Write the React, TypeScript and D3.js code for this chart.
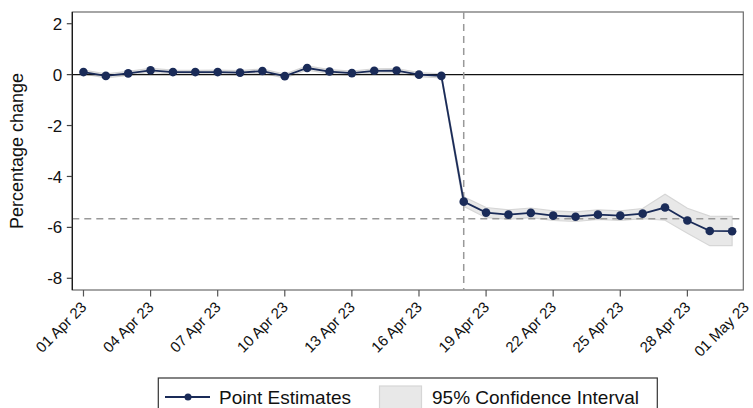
import * as d3 from "d3";
import { useEffect, useRef } from "react";

const dates = [
  "2023-04-01", "2023-04-02", "2023-04-03", "2023-04-04", "2023-04-05", "2023-04-06",
  "2023-04-07", "2023-04-08", "2023-04-09", "2023-04-10", "2023-04-11", "2023-04-12",
  "2023-04-13", "2023-04-14", "2023-04-15", "2023-04-16", "2023-04-17", "2023-04-18",
  "2023-04-19", "2023-04-20", "2023-04-21", "2023-04-22", "2023-04-23", "2023-04-24",
  "2023-04-25", "2023-04-26", "2023-04-27", "2023-04-28", "2023-04-29", "2023-04-30",
];

const estimates = [
  0.1, -0.05, 0.05, 0.17, 0.1, 0.1, 0.1, 0.08, 0.14, -0.06, 0.26, 0.12, 0.06, 0.15, 0.16, 0.0, -0.05,
  -4.99, -5.42, -5.5, -5.43, -5.54, -5.58, -5.5, -5.54, -5.46, -5.22, -5.73, -6.14, -6.15,
];

const lower = [
  0.02, -0.13, -0.03, 0.09, 0.02, 0.03, 0.02, 0.0, 0.06, -0.14, 0.18, 0.04, -0.02, 0.07, 0.08, -0.08, -0.13,
  -5.17, -5.62, -5.68, -5.62, -5.73, -5.77, -5.69, -5.73, -5.66, -5.72, -6.23, -6.72, -6.72,
];

const upper = [
  0.18, 0.03, 0.13, 0.25, 0.18, 0.17, 0.18, 0.16, 0.22, 0.02, 0.34, 0.2, 0.14, 0.23, 0.24, 0.08, 0.03,
  -4.8, -5.22, -5.31, -5.24, -5.35, -5.39, -5.31, -5.35, -5.26, -4.7, -5.25, -5.56, -5.57,
];

const xTicks = [
  "2023-04-01", "2023-04-04", "2023-04-07", "2023-04-10", "2023-04-13", "2023-04-16",
  "2023-04-19", "2023-04-22", "2023-04-25", "2023-04-28", "2023-05-01",
];
const yTicks = [2, 0, -2, -4, -6, -8];

const eventDate = "2023-04-18";
const postMean = -5.66;

const FONT = "'Liberation Sans', Arial, Helvetica, sans-serif";
const NAVY = "#1a2b58";

const parse = (s: string) => {
  const [y, m, d] = s.split("-").map(Number);
  return new Date(Date.UTC(y, m - 1, d));
};

export default function App() {
  const svgRef = useRef<SVGSVGElement>(null);
  const width = 753;
  const height = 408;

  useEffect(() => {
    if (!svgRef.current) return;
    const svg = d3.select(svgRef.current);
    svg.selectAll("*").remove();

    const left = 72.3;
    const right = 743.3;
    const top = 12;
    const bottom = 290;

    // half a day of padding on each side of the data
    const half = 12 * 3600 * 1000;
    const x = d3
      .scaleUtc()
      .domain([new Date(parse(dates[0]).getTime() - half), new Date(parse(dates[dates.length - 1]).getTime() + half)])
      .range([left, right]);
    const y = d3.scaleLinear().domain([-8.46, 2.46]).range([bottom, top]);

    const rows = dates.map((d, i) => ({ date: parse(d), est: estimates[i], lo: lower[i], hi: upper[i] }));

    // plot frame
    svg
      .append("rect")
      .attr("x", left)
      .attr("y", top)
      .attr("width", right - left)
      .attr("height", bottom - top)
      .attr("fill", "white")
      .attr("stroke", "#6b6b6b")
      .attr("stroke-width", 1.2);

    // CI band
    const area = d3
      .area<(typeof rows)[number]>()
      .x((d) => x(d.date))
      .y0((d) => y(d.lo))
      .y1((d) => y(d.hi));
    svg
      .append("path")
      .datum(rows)
      .attr("d", area)
      .attr("fill", "#e8e8e8")
      .attr("stroke", "#d6d6d6")
      .attr("stroke-width", 1.2);

    // reference lines
    svg
      .append("line")
      .attr("x1", left)
      .attr("x2", right)
      .attr("y1", y(0))
      .attr("y2", y(0))
      .attr("stroke", "#111")
      .attr("stroke-width", 1.3);

    svg
      .append("line")
      .attr("x1", left)
      .attr("x2", right)
      .attr("y1", y(postMean))
      .attr("y2", y(postMean))
      .attr("stroke", "#999")
      .attr("stroke-width", 1.5)
      .attr("stroke-dasharray", "7,5");

    svg
      .append("line")
      .attr("x1", x(parse(eventDate)))
      .attr("x2", x(parse(eventDate)))
      .attr("y1", top)
      .attr("y2", bottom)
      .attr("stroke", "#999")
      .attr("stroke-width", 1.5)
      .attr("stroke-dasharray", "7,5");

    // estimates line + markers
    const line = d3
      .line<(typeof rows)[number]>()
      .x((d) => x(d.date))
      .y((d) => y(d.est));
    svg
      .append("path")
      .datum(rows)
      .attr("d", line)
      .attr("fill", "none")
      .attr("stroke", NAVY)
      .attr("stroke-width", 1.8);

    svg
      .selectAll(".pt")
      .data(rows)
      .enter()
      .append("circle")
      .attr("class", "pt")
      .attr("cx", (d) => x(d.date))
      .attr("cy", (d) => y(d.est))
      .attr("r", 4.3)
      .attr("fill", NAVY);

    // left axis
    svg
      .append("line")
      .attr("x1", left)
      .attr("x2", left)
      .attr("y1", top)
      .attr("y2", bottom)
      .attr("stroke", "#111")
      .attr("stroke-width", 1.2);

    const yAxis = svg.append("g");
    yTicks.forEach((t) => {
      yAxis
        .append("line")
        .attr("x1", left - 5.5)
        .attr("x2", left)
        .attr("y1", y(t))
        .attr("y2", y(t))
        .attr("stroke", "#444")
        .attr("stroke-width", 1.2);
      yAxis
        .append("text")
        .attr("x", left - 10)
        .attr("y", y(t))
        .attr("dy", "0.36em")
        .attr("text-anchor", "end")
        .style("font-family", FONT)
        .style("font-size", "17px")
        .style("fill", "#111")
        .text(String(t));
    });

    svg
      .append("text")
      .attr("transform", `translate(23, ${(top + bottom) / 2}) rotate(-90)`)
      .attr("text-anchor", "middle")
      .style("font-family", FONT)
      .style("font-size", "18px")
      .style("fill", "#111")
      .text("Percentage change");

    // bottom axis
    const fmt = d3.utcFormat("%d %b %y");
    const xAxis = svg.append("g");
    xTicks.forEach((s) => {
      const d = parse(s);
      const px = x(d);
      xAxis
        .append("line")
        .attr("x1", px)
        .attr("x2", px)
        .attr("y1", bottom)
        .attr("y2", bottom + 6.5)
        .attr("stroke", "#555")
        .attr("stroke-width", 1.2);
      xAxis
        .append("text")
        .attr("transform", `translate(${Math.min(px + 4, 750)}, ${bottom + 18}) rotate(-45)`)
        .attr("text-anchor", "end")
        .style("font-family", FONT)
        .style("font-size", "15px")
        .style("fill", "#111")
        .text(fmt(d));
    });

    // legend
    const lg = svg.append("g");
    lg.append("rect")
      .attr("x", 158.3)
      .attr("y", 378)
      .attr("width", 499)
      .attr("height", 50)
      .attr("fill", "white")
      .attr("stroke", "#333")
      .attr("stroke-width", 1.2);
    const ly = 397;
    lg.append("line")
      .attr("x1", 165)
      .attr("x2", 210)
      .attr("y1", ly)
      .attr("y2", ly)
      .attr("stroke", NAVY)
      .attr("stroke-width", 1.8);
    lg.append("circle").attr("cx", 188).attr("cy", ly).attr("r", 3.5).attr("fill", NAVY);
    lg.append("text")
      .attr("x", 219)
      .attr("y", ly)
      .attr("dy", "0.36em")
      .style("font-family", FONT)
      .style("font-size", "19px")
      .style("fill", "#111")
      .text("Point Estimates");
    lg.append("rect")
      .attr("x", 379.5)
      .attr("y", 386)
      .attr("width", 42)
      .attr("height", 24)
      .attr("fill", "#e8e8e8")
      .attr("stroke", "#d6d6d6")
      .attr("stroke-width", 1.2);
    lg.append("text")
      .attr("x", 432)
      .attr("y", ly)
      .attr("dy", "0.36em")
      .style("font-family", FONT)
      .style("font-size", "19px")
      .style("fill", "#111")
      .text("95% Confidence Interval");
  }, []);

  return (
    <svg
      ref={svgRef}
      width={width}
      height={height}
      style={{ position: "absolute", left: 0, top: 0, background: "white" }}
    />
  );
}
